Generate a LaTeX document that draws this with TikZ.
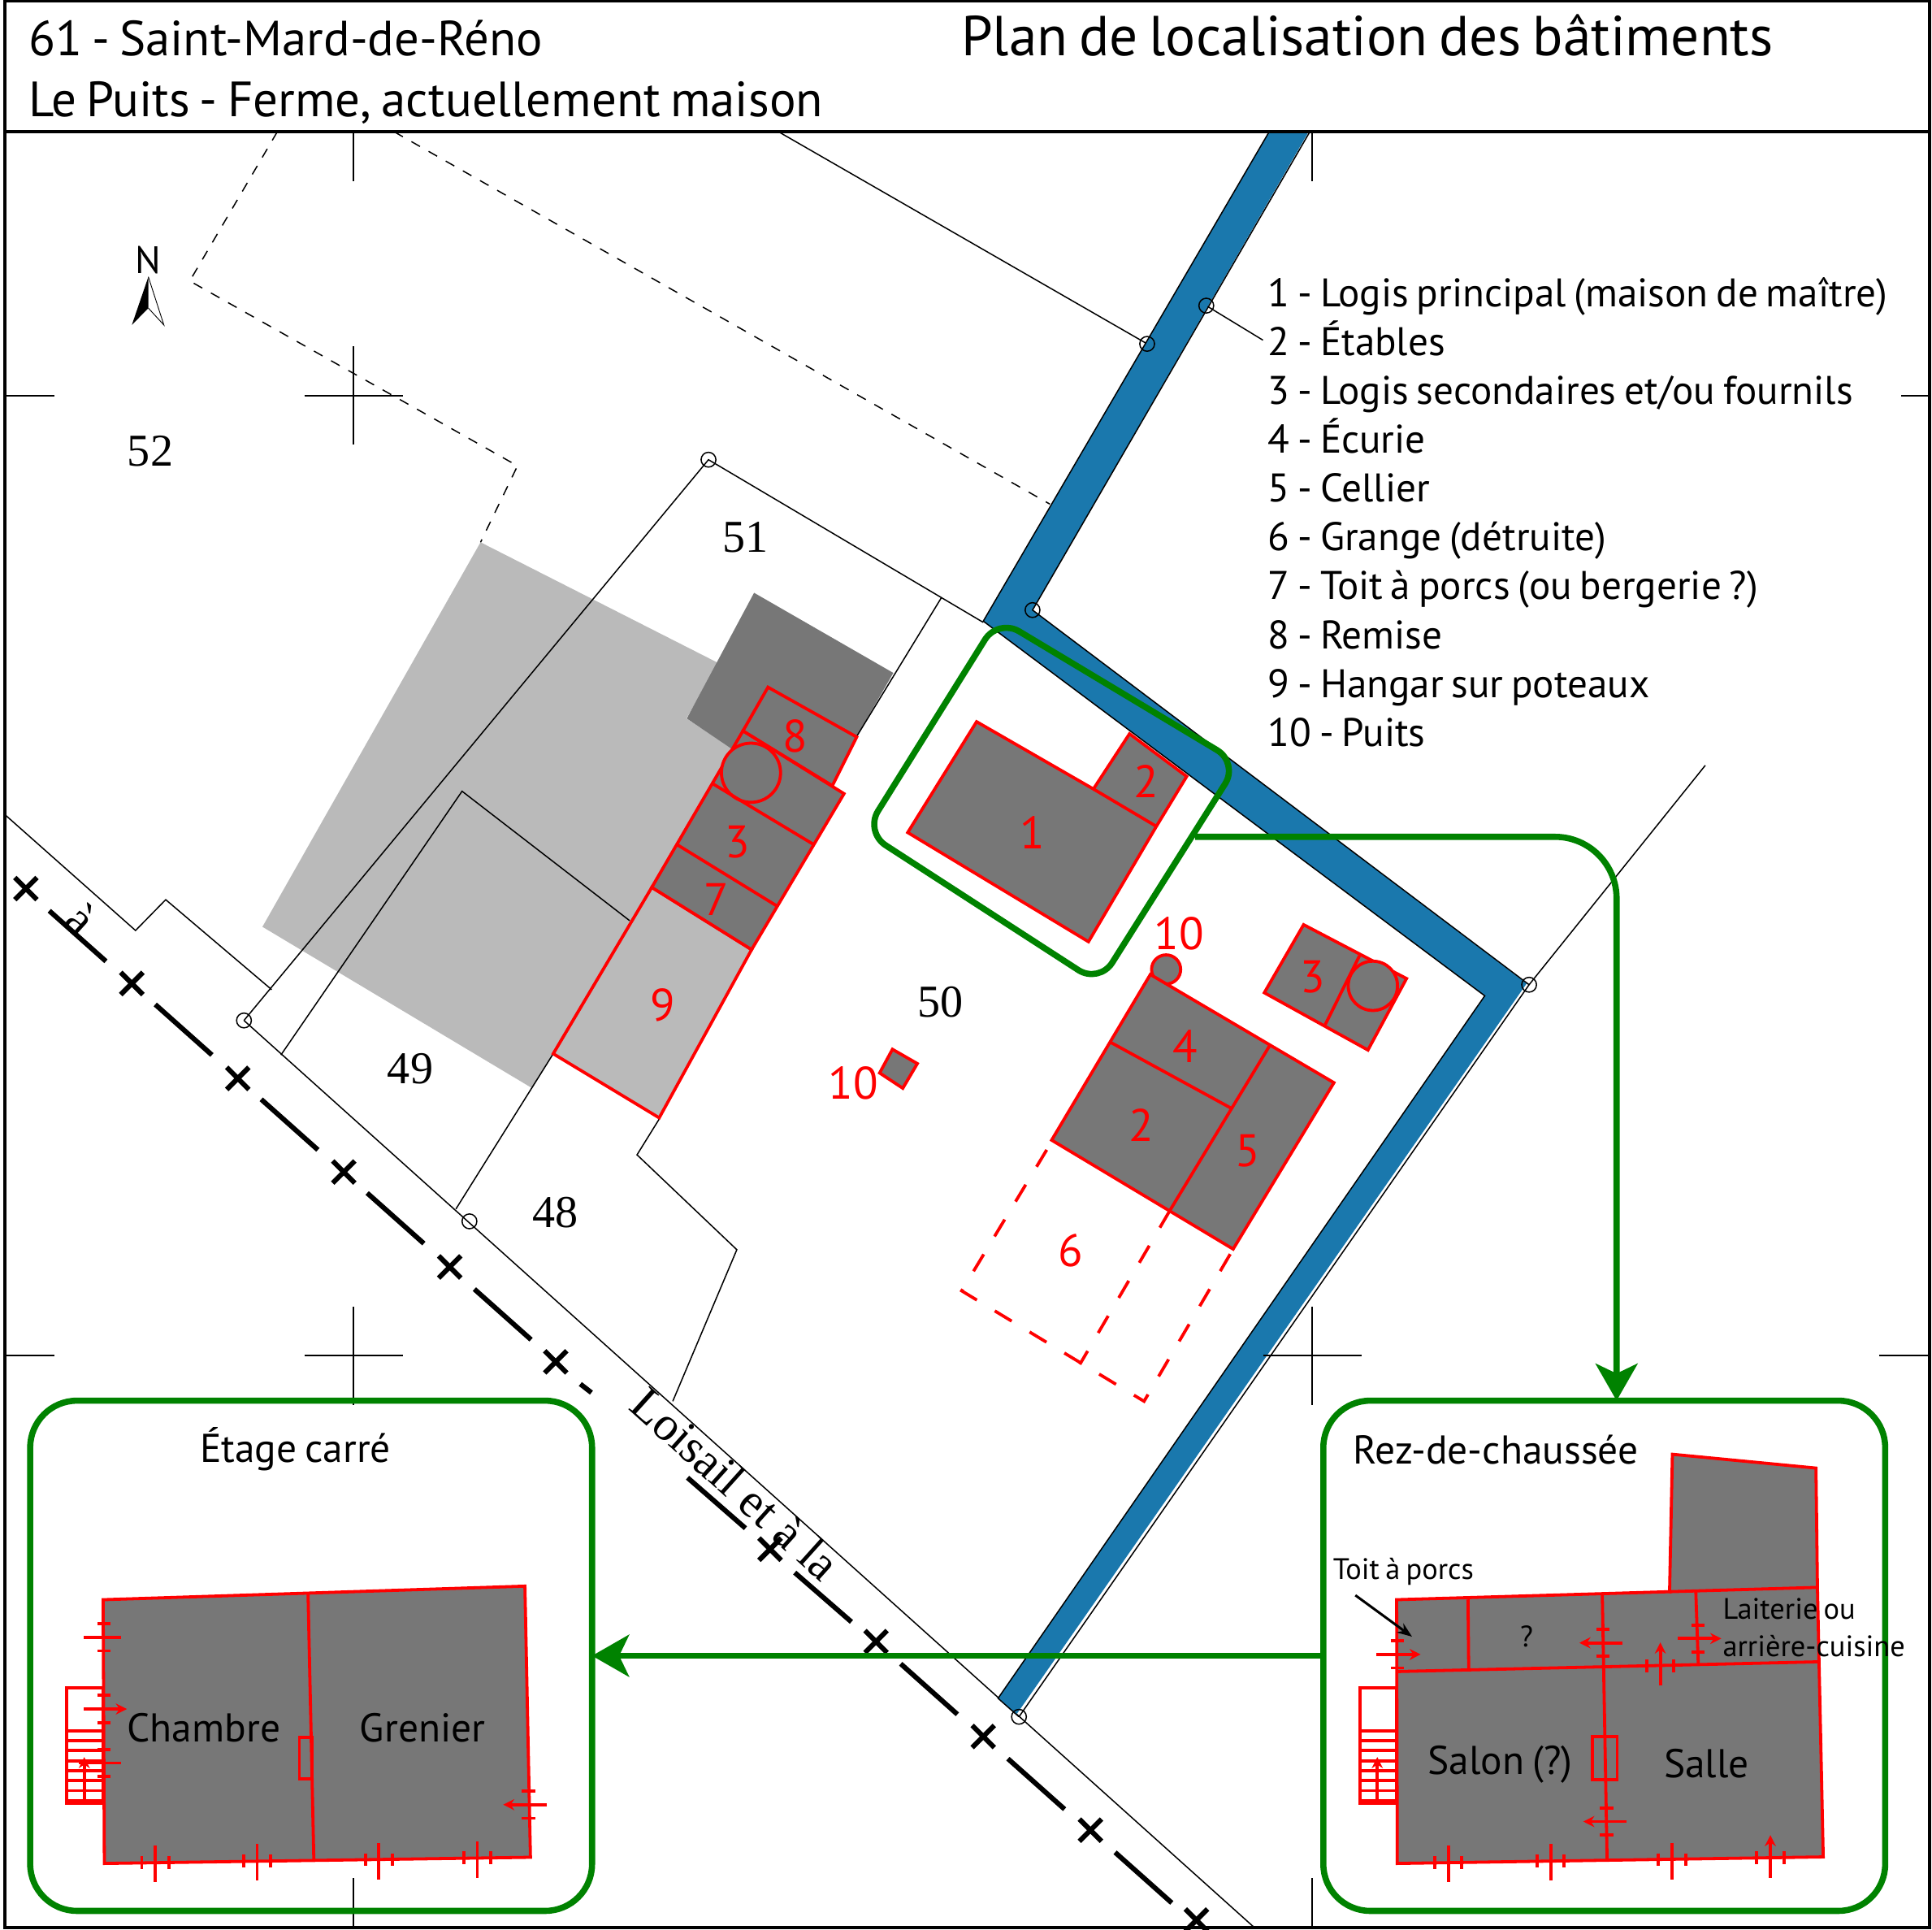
\documentclass[tikz,border=0pt]{standalone}
\usepackage{fontspec}
\setmainfont[WordSpace=0.75]{PT Sans}
\newfontfamily\cadastrefont{Liberation Serif}
\usetikzlibrary{arrows.meta,positioning}
\definecolor{PlanRed}{RGB}{255,0,0}
\definecolor{PlanGreen}{RGB}{0,130,0}
\definecolor{PlanBlue}{RGB}{26,120,173}
\definecolor{PlanDark}{RGB}{119,119,119}
\definecolor{PlanLight}{RGB}{186,186,186}
\tikzset{
  cadastre/.style={line width=1pt,black},
  limite/.style={line width=1pt,black,dash pattern=on 8pt off 8pt},
  repere/.style={line width=1.6pt,black},
  route/.style={line width=4pt,black},
  batiment/.style={line width=2.5pt,PlanRed,fill=PlanDark,line join=miter},
  hangar/.style={line width=2.5pt,PlanRed,fill=PlanLight},
  mur/.style={line width=2.5pt,PlanRed},
  detruit/.style={line width=2.5pt,PlanRed,dash pattern=on 16pt off 17pt},
  baie/.style={line width=2.5pt,PlanRed},
  fleche/.style={-{Stealth[length=9pt,width=9pt]}},
  cadre/.style={line width=5pt,PlanGreen,rounded corners=38pt,inner sep=0pt,outer sep=0pt},
  flux/.style={line width=5pt,PlanGreen,rounded corners=50pt,-{Stealth[length=30pt,width=34pt,inset=8pt]}},
  parcelle/.style={font=\cadastrefont\fontsize{37}{37}\selectfont,inner sep=0pt},
  numero/.style={font=\fontsize{37}{37}\selectfont,text=PlanRed,inner sep=0pt},
  legende/.style={font=\fontsize{32.4}{32}\selectfont,anchor=base west,inner sep=0pt},
  piece/.style={font=\fontsize{32.6}{33}\selectfont,inner sep=0pt},
  note/.style={font=\fontsize{24}{24}\selectfont,inner sep=0pt},
}
% baie horizontale : mur, y, debut, fin
\newcommand{\baieH}[5][]{\draw[baie,#1] (#4,#3) -- (#5,#3);
  \draw[baie] (#2-5.4,#3-11) -- (#2+5.4,#3-11) (#2-5.4,#3+11) -- (#2+5.4,#3+11);}
% baie verticale : x, mur, debut, fin
\newcommand{\baieV}[5][]{\draw[baie,#1] (#2,#4) -- (#2,#5);
  \draw[baie] (#2-11,#3-5.2) -- (#2-11,#3+5.2) (#2+11,#3-5.2) -- (#2+11,#3+5.2);}
\begin{document}
\begin{tikzpicture}[x=1pt,y=-1pt]
  \useasboundingbox (0,0) rectangle (1568,1566);
  \fill[white] (0,0) rectangle (1568,1566);
  % emprises grisees
  \fill[PlanLight] (390,440) -- (583,538) -- (557,583) -- (600,611) -- (449,855) -- (432,883) -- (213,752) -- cycle;
  \fill[PlanDark] (612,481) -- (725,546) -- (695,598) -- (640,640) -- (590,605) -- (557.4,583) -- cycle;
  % limites du cadastre
  \draw[limite] (225,107) -- (154,228) -- (420,378) -- (390,440);
  \draw[limite] (320,107) -- (852,409);
  \draw[cadastre] (632,107) -- (931,279);
  \draw[cadastre] (979,248) -- (1025,276);
  \draw[cadastre] (4,661) -- (110,755) -- (134.5,730) -- (220.5,803);
  \draw[cadastre] (198,828) -- (575,373) -- (798,505);
  \draw[cadastre] (198,828) -- (1018,1564);
  \draw[cadastre] (764,485) -- (695,598);
  \draw[cadastre] (228,856) -- (375,642) -- (511,747);
  \draw[cadastre] (449,855) -- (370,981);
  \draw[cadastre] (535,908) -- (517,937) -- (598,1014) -- (546,1137);
  \draw[cadastre] (1241,799) -- (1384,621);
  % chemin
  \fill[PlanBlue] (1030,107) -- (798,504) -- (1205,808) -- (810,1378) -- (825,1391) -- (1239,798) -- (838,495) -- (1062,107) -- cycle;
  \draw[cadastre] (1030,107) -- (798,504) -- (1205,808) -- (810,1378) -- (827,1393);
  \draw[cadastre] (1063,107) -- (838,495) -- (1241,799) -- (827,1393);
  \foreach \x/\y in {931/279,979/248,838/495,575/373,198/828,381/991,1241/799,827/1393}
    \draw[cadastre] (\x,\y) circle (6);
  % croix de reperage
  \foreach \x/\y in {287/321,287/1100,1065/1100} {
    \draw[repere] (\x-40,\y) -- (\x+40,\y);
    \draw[repere] (\x,\y-40) -- (\x,\y+40);
  }
  \draw[repere] (4,321) -- (44,321) (1543,321) -- (1566,321);
  \draw[repere] (4,1100) -- (44,1100) (1525,1100) -- (1566,1100);
  \draw[repere] (287,107) -- (287,147) (1065,107) -- (1065,147);
  \draw[repere] (287,1524) -- (287,1564) (1065,1524) -- (1065,1564);
  % route
  \foreach \x/\y in {21/721,107/798,193/875,279/951,365/1028,451/1105,625/1257,711/1332,798/1409,885/1485,971/1558} {
    \draw[route] (\x-9,\y-9) -- (\x+9,\y+9);
    \draw[route] (\x-9,\y+9) -- (\x+9,\y-9);
  }
  \foreach \x/\y in {40/739,126/815,212/892,298/968,385/1046,731/1350,818/1427,905/1503}
    \draw[route] (\x,\y) -- (\x+46,\y+41);
  \draw[route] (471,1123) -- (480,1130);
  \draw[route] (558,1199) -- (605,1240);
  \draw[route] (645,1276) -- (691,1316);
  \node[font=\cadastrefont\fontsize{39}{39}\selectfont,rotate=-42,inner sep=0pt] (motA) at (66,746) {à};
  \node[font=\cadastrefont\fontsize{39}{39}\selectfont,rotate=-42,inner sep=0pt] (motB) at (597,1204) {Loisail et à la};
  % parcelles
  \node[parcelle] (p52) at (122,366) {52};
  \node[parcelle] (p51) at (605,436) {51};
  \node[parcelle] (p50) at (763,813) {50};
  \node[parcelle] (p49) at (333,867) {49};
  \node[parcelle] (p48) at (451,984) {48};
  % nord
  \fill[black] (120.4,224.6) -- (107,263.7) -- (120.4,250) -- cycle;
  \draw[line width=.6pt,black] (120.4,224.6) -- (133,263.7) -- (120.4,250);
  \node[font=\fontsize{31}{32}\selectfont,inner sep=0pt] (nord) at (120.4,211) {N};
  % batiments de l'ouest
  \draw[hangar] (529,720) -- (610,770.5) -- (535,907) -- (449,855) -- cycle;
  \draw[batiment] (603,593) -- (685,644) -- (610,770.5) -- (529,720) -- cycle;
  \draw[batiment] (623.3,557.6) -- (695.3,598) -- (675.5,637.5) -- (603,593) -- cycle;
  \draw[batiment] (609.5,627) circle (24);
  \draw[mur] (578.6,636) -- (660,685);
  \draw[mur] (549,685) -- (630.7,735.2);
  \node[numero] (n8) at (645.5,597.4) {8};
  \node[numero] (n3) at (598.5,683) {3};
  \node[numero] (n7) at (581.3,730) {7};
  \node[numero] (n9) at (537.6,815.3) {9};
  % logis
  \draw[batiment] (792.6,585.6) -- (887.4,640.2) -- (916.7,595.4) -- (963.1,630) -- (938.5,670.5) -- (883.4,764.1) -- (736.7,675.5) -- cycle;
  \draw[mur] (887.4,640.2) -- (938.5,670.5);
  \node[numero] (n1) at (837.6,675.5) {1};
  \node[numero] (n2a) at (930.5,634) {2};
  % batiments de l'est
  \draw[detruit] (849.5,933) -- (780.5,1047.4) -- (928.5,1137) -- (1000.8,1013.5);
  \draw[detruit] (949.4,982.3) -- (876.4,1107);
  \draw[batiment] (946.4,786.6) circle (11.8);
  \draw[batiment] (933.6,790.7) -- (1082.6,878.5) -- (1000.8,1013.5) -- (853.5,925.1) -- cycle;
  \draw[mur] (900.9,845.5) -- (999.2,899.2);
  \draw[mur] (1030.4,848.5) -- (949.4,982.3);
  \draw[batiment] (1058,750.3) -- (1141.5,794) -- (1110.2,852) -- (1026.1,805.5) -- cycle;
  \draw[mur] (1103.4,775.4) -- (1075.5,831.4);
  \draw[batiment] (1114.2,799.9) circle (20);
  \draw[batiment] (724.3,851.4) -- (744.5,863) -- (732.7,883) -- (713.9,870.6) -- cycle;
  \node[numero] (n4) at (962.2,849) {4};
  \node[numero] (n2b) at (926,913) {2};
  \node[numero] (n5) at (1012.6,934) {5};
  \node[numero] (n6) at (868.6,1014.7) {6};
  \node[numero] (n10a) at (957,757.7) {10};
  \node[numero] (n3b) at (1065.4,793) {3};
  \node[numero] (n10b) at (692.4,879) {10};
  % encadrements et renvois
  \draw[line width=5pt,PlanGreen,rounded corners=20pt] (810,502) -- (1005,619) -- (892,798) -- (702,675) -- cycle;
  \node[cadre,draw,minimum width=456pt,minimum height=414pt] (etage) at (252.5,1343.5) {};
  \node[cadre,draw,minimum width=456pt,minimum height=414pt] (rdc) at (1302,1343.5) {};
  \coordinate (logis) at (970,679);
  \coordinate (coude) at (1312,679);
  \draw[flux] (logis) -- (coude) -- (coude |- rdc.north);
  \draw[flux] (rdc.west) -- (etage.east);
  % etage carre
  \node[piece] (tetage) at (239.7,1176) {Étage carré};
  \draw[batiment] (83.7,1298) -- (426,1287) -- (430.5,1507) -- (84.7,1512) -- cycle;
  \draw[mur] (250,1293) -- (254.7,1509);
  \draw[mur] (243,1409.5) rectangle (253,1443.6);
  \draw[mur] (54.3,1369.7) rectangle (83.7,1463);
  \foreach \i in {0,...,7} \draw[mur] (54.3,1404.3+8.1*\i) -- (83.7,1404.3+8.1*\i);
  \draw[baie,fleche] (68.4,1460.6) -- (68.4,1425.7);
  \baieH{84.5}{1328.5}{68}{98}
  \baieH[fleche]{84.5}{1386.7}{68}{103}
  \baieH{84.5}{1430.5}{64}{98}
  \baieH[fleche]{429}{1464.3}{444}{408.4}
  \baieV{126}{1511.5}{1497.6}{1527.4}
  \baieV{208.7}{1510}{1496}{1526}
  \baieV{307.5}{1509}{1495.3}{1525}
  \baieV{387.4}{1507.5}{1494}{1523.7}
  \node[piece] (chambre) at (165.5,1402) {Chambre};
  \node[piece] (grenier) at (343,1402) {Grenier};
  % rez-de-chaussee
  \node[piece] (trdc) at (1214,1176) {Rez-de-chaussée};
  \draw[batiment] (1133.5,1298) -- (1355,1291.5) -- (1357.3,1180) -- (1473.8,1191.2) -- (1475,1288) -- (1479.7,1506.7) -- (1134,1512) -- cycle;
  \draw[mur] (1355,1291.5) -- (1475,1288);
  \draw[mur] (1133.5,1356.3) -- (1475.8,1348.4);
  \draw[mur] (1191.4,1297.8) -- (1192,1355.5);
  \draw[mur] (1300.4,1293.5) -- (1304.3,1509);
  \draw[mur] (1376.3,1291.5) -- (1378.3,1350.6);
  \draw[mur] (1292.2,1409) rectangle (1312.5,1444);
  \draw[mur] (1104,1369.7) rectangle (1133.5,1463);
  \foreach \i in {0,...,7} \draw[mur] (1104,1404.3+8.1*\i) -- (1133.5,1404.3+8.1*\i);
  \draw[baie,fleche] (1117.8,1460.6) -- (1117.8,1425.7);
  \baieH[fleche]{1134}{1342.4}{1117}{1153}
  \baieH[fleche]{1301}{1333}{1316.8}{1281.8}
  \baieH[fleche]{1378}{1329.5}{1361.6}{1397}
  \baieH[fleche]{1304}{1478}{1320}{1285}
  \baieV[fleche]{1347.5}{1351.5}{1367.7}{1332.7}
  \baieV{1175.4}{1511.5}{1497.6}{1527.4}
  \baieV{1258.5}{1510}{1496}{1526}
  \baieV{1357}{1509}{1495.3}{1525}
  \baieV[fleche]{1436.8}{1507.5}{1523.7}{1489}
  \node[note] (porcs) at (1139,1275) {Toit à porcs};
  \coordinate (porcsA) at (1100,1294.4);
  \coordinate (porcsB) at (1146,1328);
  \draw[line width=2pt,-{Stealth[length=12pt,width=9pt]}] (porcsA) -- (porcsB);
  \node[note] (inconnu) at (1239,1327.6) {?};
  \node[note,anchor=west] (lait) at (1398,1305.7) {Laiterie ou};
  \node[note,anchor=west] (cuis) at (1398,1335.6) {arrière-cuisine};
  \node[piece] (salon) at (1217.6,1431.5) {Salon (?)};
  \node[piece] (salle) at (1385,1430.8) {Salle};
  % legende
  \node[legende] (l1) at (1029,249) {1 - Logis principal (maison de maître)};
  \node[legende] (l2) at (1029,288.6) {2 - Étables};
  \node[legende] (l3) at (1029,328.2) {3 - Logis secondaires et/ou fournils};
  \node[legende] (l4) at (1029,367.8) {4 - Écurie};
  \node[legende] (l5) at (1029,407.4) {5 - Cellier};
  \node[legende] (l6) at (1029,447) {6 - Grange (détruite)};
  \node[legende] (l7) at (1029,486.6) {7 - Toit à porcs (ou bergerie ?)};
  \node[legende] (l8) at (1029,526.2) {8 - Remise};
  \node[legende] (l9) at (1029,565.8) {9 - Hangar sur poteaux};
  \node[legende] (l10) at (1029,605.4) {10 - Puits};
  % cartouche
  \fill[white] (4,1) rectangle (1566,107);
  \draw[line width=2.4pt,black] (4,1) rectangle (1566,1564);
  \draw[line width=2.4pt,black] (4,107) -- (1566,107);
  \node[font=\fontsize{40}{40}\selectfont,anchor=base west,inner sep=0pt] (commune) at (23,45) {61 - Saint-Mard-de-Réno};
  \node[font=\fontsize{40.2}{40}\selectfont,anchor=base west,inner sep=0pt] (lieu) at (23,94.5) {Le Puits - Ferme, actuellement maison};
  \node[font=\fontsize{45.7}{46}\selectfont,anchor=base west,inner sep=0pt] (titre) at (780,45) {Plan de localisation des bâtiments};
\end{tikzpicture}
\end{document}
